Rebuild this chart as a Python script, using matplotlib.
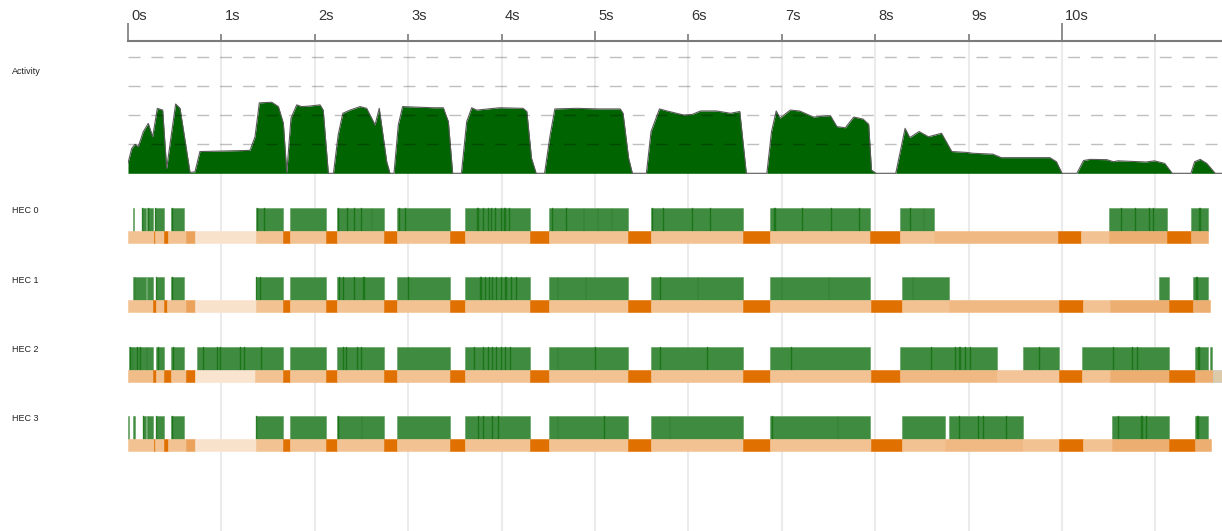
import matplotlib.pyplot as plt
from matplotlib.colors import LinearSegmentedColormap
from matplotlib.transforms import ScaledTranslation

plt.rcParams['font.family'] = ['Liberation Sans', 'DejaVu Sans']

### Data (seconds)
tick_secs = [0, 1, 2, 3, 4, 5, 6, 7, 8, 9, 10, 11]
tick_labels = ['0s', '1s', '2s', '3s', '4s', '5s', '6s', '7s', '8s', '9s', '10s', '']

# activity profile (number of busy HECs)
act_t = [0.0, 0.04, 0.075, 0.11, 0.164, 0.217, 0.264, 0.314, 0.371, 0.414, 0.51, 0.557,
         0.664, 0.717, 0.77, 1.306, 1.36, 1.406, 1.539, 1.61, 1.663, 1.70, 1.745, 1.806,
         1.86, 1.949, 2.056, 2.09, 2.145, 2.2, 2.25, 2.30, 2.377, 2.484, 2.555, 2.645,
         2.69, 2.77, 2.805, 2.848, 2.894, 2.94, 3.27, 3.376, 3.43, 3.476, 3.57, 3.626,
         3.68, 3.733, 3.98, 4.23, 4.27, 4.32, 4.37, 4.46, 4.52, 4.57, 4.80, 5.05, 5.27,
         5.30, 5.36, 5.40, 5.55, 5.60, 5.69, 5.77, 5.95, 6.04, 6.13, 6.30, 6.45, 6.55,
         6.62, 6.84, 6.89, 6.94, 6.98, 7.09, 7.19, 7.34, 7.52, 7.59, 7.68, 7.77, 7.87,
         7.93, 7.96, 8.01, 8.22, 8.32, 8.37, 8.47, 8.57, 8.71, 8.82, 8.98, 9.05, 9.26,
         9.35, 9.87, 9.94, 10.0, 10.16, 10.23, 10.30, 10.48, 10.55, 10.60, 10.90, 10.99,
         11.10, 11.18, 11.38, 11.42, 11.48, 11.55, 11.64, 11.71]
act_v = [0.35, 0.86, 1.0, 0.92, 1.44, 1.72, 1.26, 2.24, 2.18, 0.17, 2.39, 2.24,
         0.03, 0.05, 0.75, 0.79, 1.26, 2.43, 2.45, 2.3, 1.73, 0.03, 1.9, 2.36,
         2.30, 2.32, 2.36, 2.18, 0.0, 0.0, 1.32, 2.07, 2.18, 2.30, 2.24, 1.67,
         2.24, 0.40, 0.0, 0.0, 1.67, 2.30, 2.26, 2.26, 1.78, 0.0, 0.0, 1.78,
         2.26, 2.18, 2.26, 2.24, 2.13, 0.52, 0.0, 0.0, 1.32, 2.22, 2.24, 2.22, 2.22,
         2.07, 0.52, 0.0, 0.0, 1.44, 2.22, 2.15, 2.01, 2.03, 2.15, 2.15, 2.07, 2.13,
         0.0, 0.0, 1.44, 2.15, 1.90, 2.18, 2.15, 1.94, 1.99, 1.61, 1.57, 1.94, 1.87,
         1.69, 0.11, 0.0, 0.0, 1.55, 1.23, 1.44, 1.26, 1.38, 0.75, 0.72, 0.69, 0.66,
         0.54, 0.54, 0.40, 0.0, 0.0, 0.44, 0.48, 0.47, 0.40, 0.43, 0.39, 0.43,
         0.34, 0.0, 0.0, 0.40, 0.48, 0.34, 0.0, 0.0]

hec_labels = ['HEC 0', 'HEC 1', 'HEC 2', 'HEC 3']

# running (green) spans per HEC
hec0_run = [(0.056, 0.067), (0.155, 0.19), (0.20, 0.267), (0.289, 0.389), (0.457, 0.603),
            (1.367, 1.662), (1.739, 2.121), (2.236, 2.744), (2.878, 3.448), (3.608, 4.304),
            (4.503, 5.352), (5.60, 6.587), (6.874, 7.944), (8.261, 8.629), (10.502, 11.125),
            (11.385, 11.565)]
hec1_run = [(0.057, 0.19), (0.20, 0.264), (0.297, 0.385), (0.457, 0.603), (1.367, 1.662),
            (1.739, 2.121), (2.236, 2.744), (2.878, 3.448), (3.608, 4.304), (4.503, 5.352),
            (5.60, 6.587), (6.874, 7.944), (8.284, 8.79), (11.04, 11.15), (11.406, 11.566)]
hec2_run = [(0.014, 0.264), (0.30, 0.385), (0.457, 0.603), (0.742, 1.663), (1.739, 2.121),
            (2.236, 2.744), (2.878, 3.448), (3.608, 4.304), (4.503, 5.352), (5.60, 6.587),
            (6.874, 7.944), (8.27, 9.30), (9.579, 9.968), (10.21, 11.15), (11.42, 11.566),
            (11.585, 11.61)]
hec3_run = [(0.003, 0.007), (0.057, 0.07), (0.157, 0.19), (0.20, 0.264), (0.297, 0.385),
            (0.457, 0.603), (1.367, 1.662), (1.739, 2.121), (2.236, 2.744), (2.878, 3.448),
            (3.608, 4.304), (4.503, 5.352), (5.60, 6.587), (6.874, 7.944), (8.284, 8.75),
            (8.787, 9.586), (10.53, 11.15), (11.42, 11.566)]

# darker streaks inside running spans
hec0_dark = [(0.155, 0.163), (0.21, 0.22), (0.29, 0.297), (0.47, 0.482), (1.379, 1.395),
             (1.46, 1.467), (2.245, 2.262), (2.35, 2.36), (2.42, 2.427), (2.49, 2.505),
             (2.61, 2.617), (2.90, 2.907), (2.97, 2.977), (3.74, 3.755), (3.80, 3.81),
             (3.85, 3.865), (3.89, 3.90), (3.93, 3.945), (3.99, 4.0), (4.03, 4.045),
             (4.08, 4.09), (4.54, 4.552), (4.69, 4.697), (4.88, 4.887), (5.03, 5.037),
             (5.18, 5.187), (5.61, 5.625), (5.73, 5.74), (6.04, 6.047), (6.23, 6.237),
             (6.92, 6.935), (7.22, 7.227), (7.53, 7.537), (7.83, 7.837), (8.37, 8.385),
             (8.52, 8.527), (10.63, 10.645), (10.78, 10.795), (10.93, 10.945),
             (10.97, 10.98), (11.47, 11.485)]
hec1_dark = [(0.07, 0.08), (0.2, 0.207), (0.3, 0.307), (0.47, 0.477), (1.37, 1.385),
             (1.41, 1.42), (2.26, 2.275), (2.3, 2.31), (2.42, 2.427), (2.52, 2.535),
             (3.0, 3.01), (3.77, 3.785), (3.82, 3.83), (3.86, 3.875), (3.9, 3.91),
             (3.94, 3.955), (3.99, 4.0), (4.04, 4.055), (4.1, 4.11), (4.15, 4.165),
             (4.6, 4.607), (4.9, 4.907), (5.7, 5.707), (6.1, 6.107), (7.0, 7.007),
             (7.5, 7.507), (8.4, 8.41), (11.44, 11.455)]
hec2_dark = [(0.02, 0.035), (0.05, 0.058), (0.1, 0.112), (0.13, 0.138), (0.2, 0.207),
             (0.32, 0.327), (0.48, 0.49), (0.8, 0.81), (0.95, 0.962), (0.99, 1.0),
             (1.2, 1.212), (1.24, 1.25), (1.42, 1.432), (2.3, 2.312), (2.33, 2.34),
             (2.45, 2.46), (2.49, 2.5), (3.7, 3.712), (3.8, 3.815), (3.85, 3.865),
             (3.9, 3.91), (3.94, 3.955), (3.99, 4.005), (4.04, 4.05), (4.09, 4.1),
             (4.6, 4.607), (5.0, 5.007), (5.7, 5.707), (6.2, 6.207), (7.1, 7.107),
             (8.6, 8.612), (8.85, 8.862), (8.9, 8.915), (8.96, 8.97), (9.01, 9.025),
             (9.75, 9.762), (10.55, 10.562), (10.75, 10.762), (10.8, 10.81),
             (11.46, 11.475)]
hec3_dark = [(0.16, 0.167), (0.21, 0.217), (0.3, 0.307), (0.47, 0.477), (1.37, 1.382),
             (2.25, 2.262), (2.5, 2.51), (3.75, 3.762), (3.8, 3.81), (3.9, 3.912),
             (3.96, 3.97), (4.6, 4.607), (5.1, 5.107), (5.8, 5.807), (6.9, 6.907),
             (7.6, 7.607), (8.9, 8.912), (9.1, 9.112), (9.15, 9.16), (9.4, 9.412),
             (10.6, 10.612), (10.85, 10.862), (10.9, 10.91), (11.45, 11.462)]

# allocation / GC strip: (start, end, intensity 0..1), 1 = GC
hec0_gc = [(0.0, 0.28, 0.35), (0.28, 0.29, 1.0), (0.29, 0.389, 0.35), (0.389, 0.427, 1.0),
           (0.427, 0.62, 0.35), (0.62, 0.72, 0.6), (0.72, 1.367, 0.1), (1.367, 1.662, 0.35),
           (1.662, 1.739, 1.0), (1.739, 2.121, 0.35), (2.121, 2.236, 1.0), (2.236, 2.744, 0.35),
           (2.744, 2.878, 1.0), (2.878, 3.448, 0.35), (3.448, 3.608, 1.0), (3.608, 4.304, 0.35),
           (4.304, 4.503, 1.0), (4.503, 5.352, 0.35), (5.352, 5.60, 1.0), (5.60, 6.587, 0.35),
           (6.587, 6.874, 1.0), (6.874, 7.944, 0.35), (7.944, 8.261, 1.0), (8.261, 8.63, 0.35),
           (8.63, 9.952, 0.42), (9.952, 10.2, 1.0), (10.2, 10.5, 0.35), (10.5, 11.125, 0.5),
           (11.125, 11.385, 1.0), (11.385, 11.565, 0.5)]
hec1_gc = [(0.0, 0.27, 0.35), (0.27, 0.30, 1.0), (0.30, 0.39, 0.35), (0.39, 0.42, 1.0),
           (0.42, 0.62, 0.35), (0.62, 0.72, 0.6), (0.72, 1.367, 0.1), (1.367, 1.662, 0.35),
           (1.662, 1.739, 1.0), (1.739, 2.121, 0.35), (2.121, 2.236, 1.0), (2.236, 2.744, 0.35),
           (2.744, 2.878, 1.0), (2.878, 3.448, 0.35), (3.448, 3.608, 1.0), (3.608, 4.304, 0.35),
           (4.304, 4.503, 1.0), (4.503, 5.352, 0.35), (5.352, 5.60, 1.0), (5.60, 6.587, 0.35),
           (6.587, 6.874, 1.0), (6.874, 7.95, 0.35), (7.95, 8.284, 1.0), (8.284, 8.79, 0.35),
           (8.79, 9.97, 0.42), (9.97, 10.22, 1.0), (10.22, 10.51, 0.35), (10.51, 11.15, 0.5),
           (11.15, 11.406, 1.0), (11.406, 11.585, 0.5)]
hec2_gc = [(0.0, 0.27, 0.4), (0.27, 0.30, 1.0), (0.30, 0.39, 0.35), (0.39, 0.457, 1.0),
           (0.457, 0.617, 0.35), (0.617, 0.717, 1.0), (0.717, 1.36, 0.08), (1.36, 1.662, 0.35),
           (1.662, 1.739, 1.0), (1.739, 2.121, 0.35), (2.121, 2.236, 1.0), (2.236, 2.744, 0.35),
           (2.744, 2.878, 1.0), (2.878, 3.448, 0.35), (3.448, 3.608, 1.0), (3.608, 4.304, 0.35),
           (4.304, 4.503, 1.0), (4.503, 5.352, 0.35), (5.352, 5.60, 1.0), (5.60, 6.587, 0.35),
           (6.587, 6.874, 1.0), (6.874, 7.95, 0.35), (7.95, 8.27, 1.0), (8.27, 9.30, 0.42),
           (9.30, 9.968, 0.33), (9.968, 10.21, 1.0), (10.21, 10.51, 0.35), (10.51, 11.15, 0.5),
           (11.15, 11.42, 1.0), (11.42, 11.613, 0.5)]
hec3_gc = [(0.0, 0.28, 0.35), (0.28, 0.29, 1.0), (0.29, 0.389, 0.35), (0.389, 0.427, 1.0),
           (0.427, 0.62, 0.35), (0.62, 0.72, 0.6), (0.72, 1.367, 0.1), (1.367, 1.662, 0.35),
           (1.662, 1.739, 1.0), (1.739, 2.121, 0.35), (2.121, 2.236, 1.0), (2.236, 2.744, 0.35),
           (2.744, 2.878, 1.0), (2.878, 3.448, 0.35), (3.448, 3.608, 1.0), (3.608, 4.304, 0.35),
           (4.304, 4.503, 1.0), (4.503, 5.352, 0.35), (5.352, 5.60, 1.0), (5.60, 6.587, 0.35),
           (6.587, 6.874, 1.0), (6.874, 7.95, 0.35), (7.95, 8.284, 1.0), (8.284, 8.75, 0.35),
           (8.75, 9.586, 0.42), (9.586, 9.97, 0.35), (9.97, 10.22, 1.0), (10.22, 10.53, 0.35),
           (10.53, 11.15, 0.5), (11.15, 11.42, 1.0), (11.42, 11.59, 0.5)]
hec2_idle_tail = (11.613, 11.713)

### Layout (pixels of the 1222x531 canvas)
W, H = 1222, 531
X0 = 128            # pixel of t = 0
PX_PER_S = 93.4
T_MAX = (W - X0) / PX_PER_S
ROW_PX = 69.3
RUN_H = 23 / ROW_PX
GC_H = 12 / ROW_PX


def rect(top, bottom, left=X0, right=W):
    return [left / W, 1 - bottom / H, (right - left) / W, (bottom - top) / H]


fig = plt.figure(figsize=(W / 100, H / 100), dpi=100)

### time ruler + vertical grid
ax_t = fig.add_axes(rect(41, H))
ax_t.set_xlim(0, T_MAX)
ax_t.set_ylim(0, 1)
for s in ['left', 'right', 'bottom']:
    ax_t.spines[s].set_visible(False)
ax_t.spines['top'].set_color('#7a7a7a')
ax_t.spines['top'].set_linewidth(1.5)
ax_t.set_yticks([])
ax_t.xaxis.tick_top()
ax_t.set_xticks(tick_secs, tick_labels)
ax_t.tick_params(axis='x', top=True, bottom=False, length=5, width=1.2,
                 color='#7a7a7a', pad=8.3, labelsize=10.5, labelcolor='#333333')
shift = ScaledTranslation(3 / 100, 0, fig.dpi_scale_trans)
for tick, s in zip(ax_t.xaxis.get_major_ticks(), tick_secs):
    if s in (0, 10):
        tick.tick2line.set_markersize(13)
    elif s == 5:
        tick.tick2line.set_markersize(7.5)
    tick.label2.set_horizontalalignment('left')
    tick.label2.set_transform(tick.label2.get_transform() + shift)
ax_t.vlines(tick_secs[1:], 0, 1, color='#ebebeb', lw=1.5, zorder=0)

### activity graph
ax_a = fig.add_axes(rect(50, 180))
ax_a.set_facecolor('none')
ax_a.set_xlim(0, T_MAX)
ax_a.set_ylim(-0.231, 4.252)
ax_a.axis('off')
ax_a.fill_between(act_t, act_v, color='#006400', lw=0, zorder=1)
ax_a.plot(act_t, act_v, color='#5a5a5a', lw=0.8, zorder=2)
ax_a.hlines([1, 2, 3, 4], 0, T_MAX, colors=[(0, 0, 0, 0.25)], lw=1,
            linestyles=[(0, (8.6, 7.9))], zorder=3)

### HEC rows
gc_cmap = LinearSegmentedColormap.from_list('gc', ['#fbeee2', '#e07000'])
rows_run = [hec0_run, hec1_run, hec2_run, hec3_run]
rows_dark = [hec0_dark, hec1_dark, hec2_dark, hec3_dark]
rows_gc = [hec0_gc, hec1_gc, hec2_gc, hec3_gc]

ax_h = fig.add_axes(rect(198, 460))
ax_h.set_facecolor('none')
ax_h.set_xlim(0, T_MAX)
ax_h.set_ylim((460 - 208) / ROW_PX, -10 / ROW_PX)
ax_h.axis('off')
for i in range(4):
    ax_h.broken_barh([(a, b - a) for a, b in rows_run[i]], (i, RUN_H),
                     facecolors='#3f8b3f', edgecolor='#5b9b5b', lw=0.4)
    ax_h.broken_barh([(a, b - a) for a, b in rows_dark[i]], (i, RUN_H),
                     facecolors='#12700f', edgecolor='face', lw=0.3, alpha=0.7)
    ax_h.broken_barh([(a, b - a) for a, b, c in rows_gc[i]], (i + RUN_H, GC_H),
                     facecolors=[gc_cmap(c) for a, b, c in rows_gc[i]],
                     edgecolor='face', lw=0.4)
ax_h.broken_barh([(hec2_idle_tail[0], hec2_idle_tail[1] - hec2_idle_tail[0])],
                 (2 + RUN_H, GC_H), facecolors='#dccaa8', edgecolor='#c8c8c8', lw=0.5,
                 clip_on=False)

### row labels
fig.text(12 / W, 1 - 72 / H, 'Activity', fontsize=6.5, color='#222222', va='center')
for i, lab in enumerate(hec_labels):
    fig.text(12 / W, 1 - (211 + i * ROW_PX) / H, lab, fontsize=6.5, color='#222222',
             va='center')

fig.savefig('out.png', dpi=100)
